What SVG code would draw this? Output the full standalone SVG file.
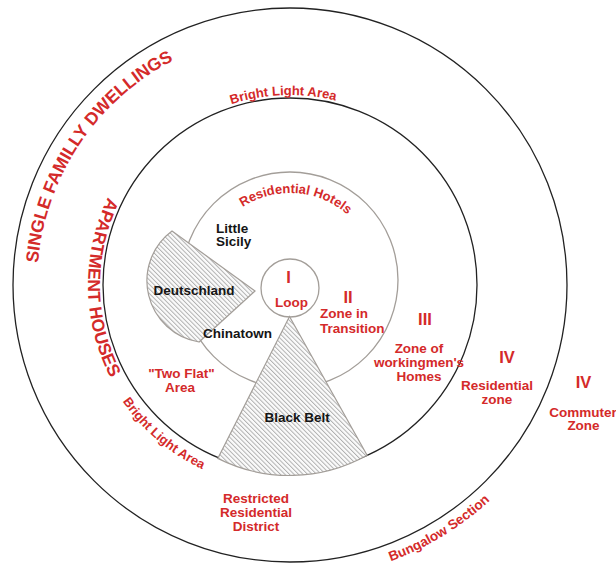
<svg xmlns="http://www.w3.org/2000/svg" width="616" height="565" viewBox="0 0 616 565">
<style>
.ring{fill:none;stroke:#222;stroke-width:1.3}
.gring{fill:none;stroke:#a39e99;stroke-width:1.3}
.wedge{fill:url(#hatch);stroke:#a39e99;stroke-width:1.2}
.r{font-family:"Liberation Sans",Arial,sans-serif;font-weight:bold;font-size:13.5px;fill:#d42a2a}
.k{font-family:"Liberation Sans",Arial,sans-serif;font-weight:bold;font-size:13.5px;fill:#151515}
.n{font-family:"Liberation Sans",Arial,sans-serif;font-weight:bold;font-size:16.5px;fill:#d42a2a}
.m{text-anchor:middle}
</style>
<defs>
<pattern id="hatch" patternUnits="userSpaceOnUse" width="3.2" height="3.2" patternTransform="rotate(-45)">
<rect width="3.2" height="3.2" fill="#fbfbfb"/>
<line x1="0.5" y1="0" x2="0.5" y2="3.2" stroke="#aaa" stroke-width="0.9"/>
</pattern>
<path id="pSingle" d="M37,285 A253,253 0 0 1 543,285"/>
<path id="pApt" d="M290,83 A202,202 0 0 0 290,487"/>
<path id="pBrightTop" d="M100,285 A190,190 0 0 1 480,285"/>
<path id="pBrightLow" d="M290,81 A204,204 0 0 0 290,489"/>
<path id="pHotels" d="M203,280 A87,87 0 0 1 377,280"/>
<path id="pBungalow" d="M-4,285 A294,294 0 0 0 584,285"/>
</defs>

<g id="zones">
<circle id="zone-outer" class="ring" cx="290" cy="285" r="277"/>
<circle id="zone-apartment" class="ring" cx="290" cy="285" r="187"/>
<circle id="zone-transition" class="gring" cx="290" cy="280" r="108"/>
<circle id="zone-loop" class="gring" cx="290" cy="288" r="29" fill="#fff"/>
</g>

<g id="deutschland">
<path class="wedge" d="M255,291 L172,231 A62,62 0 0 0 199,342 Z"/>
<text class="k" x="153.5" y="295">Deutschland</text>
</g>
<g id="black-belt">
<path class="wedge" d="M289.5,316.5 L217.8,458.4 A159,159 0 0 0 367.1,455.3 Z"/>
<text class="k" x="264.5" y="422">Black Belt</text>
</g>

<g id="curved-labels">
<text class="r" style="font-size:17.6px"><textPath href="#pSingle" startOffset="22">SINGLE FAMILLY DWELLINGS</textPath></text>
<text class="r m" style="font-size:17.5px"><textPath href="#pApt" startOffset="320">APARTMENT HOUSES</textPath></text>
<text class="r m" style="font-size:13px"><textPath href="#pBrightTop" startOffset="291.5">Bright Light Area</textPath></text>
<text class="r m" style="font-size:13px"><textPath href="#pBrightLow" startOffset="497">Bright Light Area</textPath></text>
<text class="r m" style="font-size:13px"><textPath href="#pHotels" startOffset="142.7">Residential Hotels</textPath></text>
<text class="r m" style="font-size:13.5px"><textPath href="#pBungalow" startOffset="623">Bungalow Section</textPath></text>
</g>

<g id="labels">
<text class="k" x="216" y="232.5">Little</text>
<text class="k" x="216" y="246">Sicily</text>
<text class="k" x="203" y="338">Chinatown</text>
<text class="n m" x="288.5" y="283">I</text>
<text class="r m" x="291.5" y="307">Loop</text>
<text class="n m" x="348" y="303">II</text>
<text class="r" x="320" y="318">Zone in</text>
<text class="r" x="320" y="332.5">Transition</text>
<text class="n m" x="425" y="325">III</text>
<text class="r m" x="419" y="353">Zone of</text>
<text class="r m" x="419" y="367">workingmen's</text>
<text class="r m" x="419" y="381">Homes</text>
<text class="n m" x="507" y="363">IV</text>
<text class="r m" x="497" y="389.5">Residential</text>
<text class="r m" x="497" y="403.5">zone</text>
<text class="n m" x="583.5" y="388">IV</text>
<text class="r m" x="583" y="417">Commuter</text>
<text class="r m" x="583.5" y="430">Zone</text>
<text class="r m" x="181.5" y="378">"Two Flat"</text>
<text class="r m" x="180" y="392">Area</text>
<text class="r m" x="256" y="503">Restricted</text>
<text class="r m" x="256" y="517">Residential</text>
<text class="r m" x="256" y="530.5">District</text>
</g>
</svg>
